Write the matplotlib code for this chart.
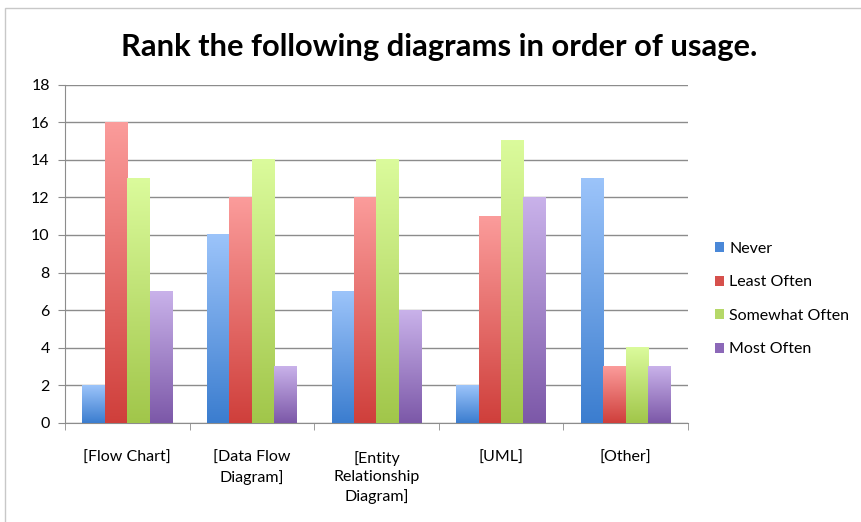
import matplotlib.pyplot as plt
import numpy as np
from matplotlib.colors import LinearSegmentedColormap
from matplotlib.patches import Rectangle

plt.rcParams['font.family'] = ['Lato', 'DejaVu Sans']

# Survey counts per diagram type
categories = ["[Flow Chart]", "[Data Flow\nDiagram]", "[Entity\nRelationship\nDiagram]", "[UML]", "[Other]"]
series = ["Never", "Least Often", "Somewhat Often", "Most Often"]
never = [2, 10, 7, 2, 13]
least_often = [16, 12, 12, 11, 3]
somewhat_often = [13, 14, 14, 15, 4]
most_often = [7, 3, 6, 12, 3]
values = [never, least_often, somewhat_often, most_often]

# (top, bottom) colours for the bar gradients
grads = [("#9cc4fa", "#3b7dcf"),
         ("#fb9c9b", "#cf3f3b"),
         ("#dbfb9c", "#a1c64a"),
         ("#c9b2ea", "#7c58a8")]
legend_cols = ["#4a88d8", "#d6504c", "#b5d868", "#8c68b8"]

fig = plt.figure(figsize=(8.62, 5.22), dpi=100)
ax = fig.add_axes([0.0754, 0.1897, 0.7226, 0.6483])

# light frame around the chart area
fig.patches.append(Rectangle((5 / 862, -0.5), 2.0, 1.5 - 8 / 522, transform=fig.transFigure,
                             fill=False, edgecolor="#c8c8c8", lw=1.0, zorder=0))

x = np.arange(len(categories))
width = 0.18
grad = np.linspace(0, 1, 256).reshape(-1, 1)

for i, (name, vals) in enumerate(zip(series, values)):
    cmap = LinearSegmentedColormap.from_list(name, [grads[i][1], grads[i][0]])
    offs = x + (i - 1.5) * width
    bars = ax.bar(offs, vals, width, color="none", edgecolor="none", zorder=3)
    for b in bars:
        x0, h = b.get_x(), b.get_height()
        ax.imshow(grad, extent=[x0, x0 + width, 0, h], origin="lower", aspect="auto",
                  cmap=cmap, zorder=3, interpolation="bilinear")
    ax.bar([0], [0], color=legend_cols[i], label=name)

ax.set_xlim(-0.5, len(categories) - 0.5)
ax.set_ylim(0, 18)
ax.set_yticks(range(0, 19, 2))
ax.yaxis.grid(True, color="#8c8c8c", lw=1.0, zorder=1)
ax.set_axisbelow(True)

ax.set_xticks(x)
ax.set_xticklabels(categories, fontsize=11.5, linespacing=1.4)
ax.set_xticks(np.arange(-0.5, len(categories)), minor=True)
ax.tick_params(axis="x", which="major", length=0, pad=20)
ax.tick_params(axis="x", which="minor", length=5, color="#8c8c8c", direction="out")
ax.tick_params(axis="y", length=5, color="#8c8c8c", labelsize=11.5, pad=6)

for side in ["top", "right"]:
    ax.spines[side].set_visible(False)
for side in ["left", "bottom"]:
    ax.spines[side].set_color("#8c8c8c")

fig.text(0.509, 0.91, "Rank the following diagrams in order of usage.",
         ha="center", va="center", fontsize=22.2, fontweight="bold")

leg = ax.legend(loc="center left", bbox_to_anchor=(1.02, 0.366), frameon=False,
                fontsize=11.5, handlelength=0.6, handleheight=0.6, handletextpad=0.3,
                labelspacing=1.22)

fig.savefig("out.png", dpi=100)
